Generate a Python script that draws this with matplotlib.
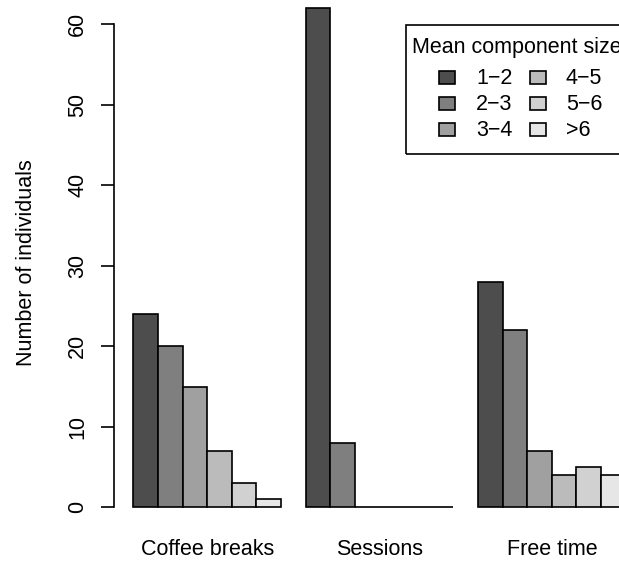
import numpy as np
import matplotlib
matplotlib.use("Agg")
import matplotlib.pyplot as plt
from matplotlib.patches import Rectangle

plt.rcParams['font.family'] = ['Liberation Sans', 'DejaVu Sans']

groups = ['Coffee breaks', 'Sessions', 'Free time']
size_classes = ['1\u22122', '2\u22123', '3\u22124', '4\u22125', '5\u22126', '>6']
coffee = [24, 20, 15, 7, 3, 1]
sessions = [62, 8, 0, 0, 0, 0]
free_time = [28, 22, 7, 4, 5, 4]
counts = [coffee, sessions, free_time]
yticks = [0, 10, 20, 30, 40, 50, 60]

# R grey.colors(6)
g = (np.linspace(0.3 ** 2.2, 0.9 ** 2.2, 6)) ** (1 / 2.2)
greys = [(v, v, v) for v in g]

W, H = 619, 565
fig = plt.figure(figsize=(W / 100, H / 100), dpi=100)
ax = fig.add_axes([113.6 / W, (H - 527.3) / H, 531.8 / W, 539.3 / H])

fs = 15.5
lw = 1.2
for gi, vals in enumerate(counts):
    for k, v in enumerate(vals):
        x0 = 1 + gi * 7 + k
        ax.bar(x0, v, width=1, align='edge', color=greys[k],
               edgecolor='black', linewidth=lw, clip_on=False)

ax.set_xlim(0.2, 21.8)
ax.set_ylim(-2.48, 64.48)

for s in ['top', 'right', 'bottom']:
    ax.spines[s].set_visible(False)
ax.spines['left'].set_bounds(0, 60)
ax.spines['left'].set_linewidth(lw)

ax.set_yticks(yticks)
ax.set_yticklabels([str(t) for t in yticks], fontsize=fs, rotation=90)
for lbl in ax.get_yticklabels():
    lbl.set_va('center')
ax.tick_params(axis='y', length=9.4, width=lw, pad=9)

ax.set_xticks([4, 11, 18])
ax.set_xticklabels(groups, fontsize=fs)
ax.tick_params(axis='x', length=0, pad=8.5)

ax.set_ylabel('Number of individuals', fontsize=fs)
ax.yaxis.set_label_coords(-0.1638, 0.49)
ax.yaxis.label.set_va('center')

# legend box (R style, running off the right edge)
def fx(px):
    return px / W

def fy(py):
    return (H - py) / H

fig.patches.append(Rectangle((fx(406), fy(154.3)), fx(646) - fx(406), fy(25) - fy(154.3),
                             transform=fig.transFigure, fill=False,
                             edgecolor='black', linewidth=lw))
fig.text(fx(412), fy(52.5), 'Mean component size', fontsize=fs, ha='left', va='baseline')
base_rows = [84.3, 110, 136]
sq_x = [439.3, 530]
txt_x = [476, 565.7]
for k, lab in enumerate(size_classes):
    c, r = divmod(k, 3)
    fig.patches.append(Rectangle((fx(sq_x[c]), fy(base_rows[r])), 15.5 / W, 13 / H,
                                 transform=fig.transFigure, facecolor=greys[k],
                                 edgecolor='black', linewidth=lw))
    fig.text(fx(txt_x[c]), fy(base_rows[r]), lab, fontsize=fs, ha='left', va='baseline')

fig.savefig('out.png', dpi=100)
